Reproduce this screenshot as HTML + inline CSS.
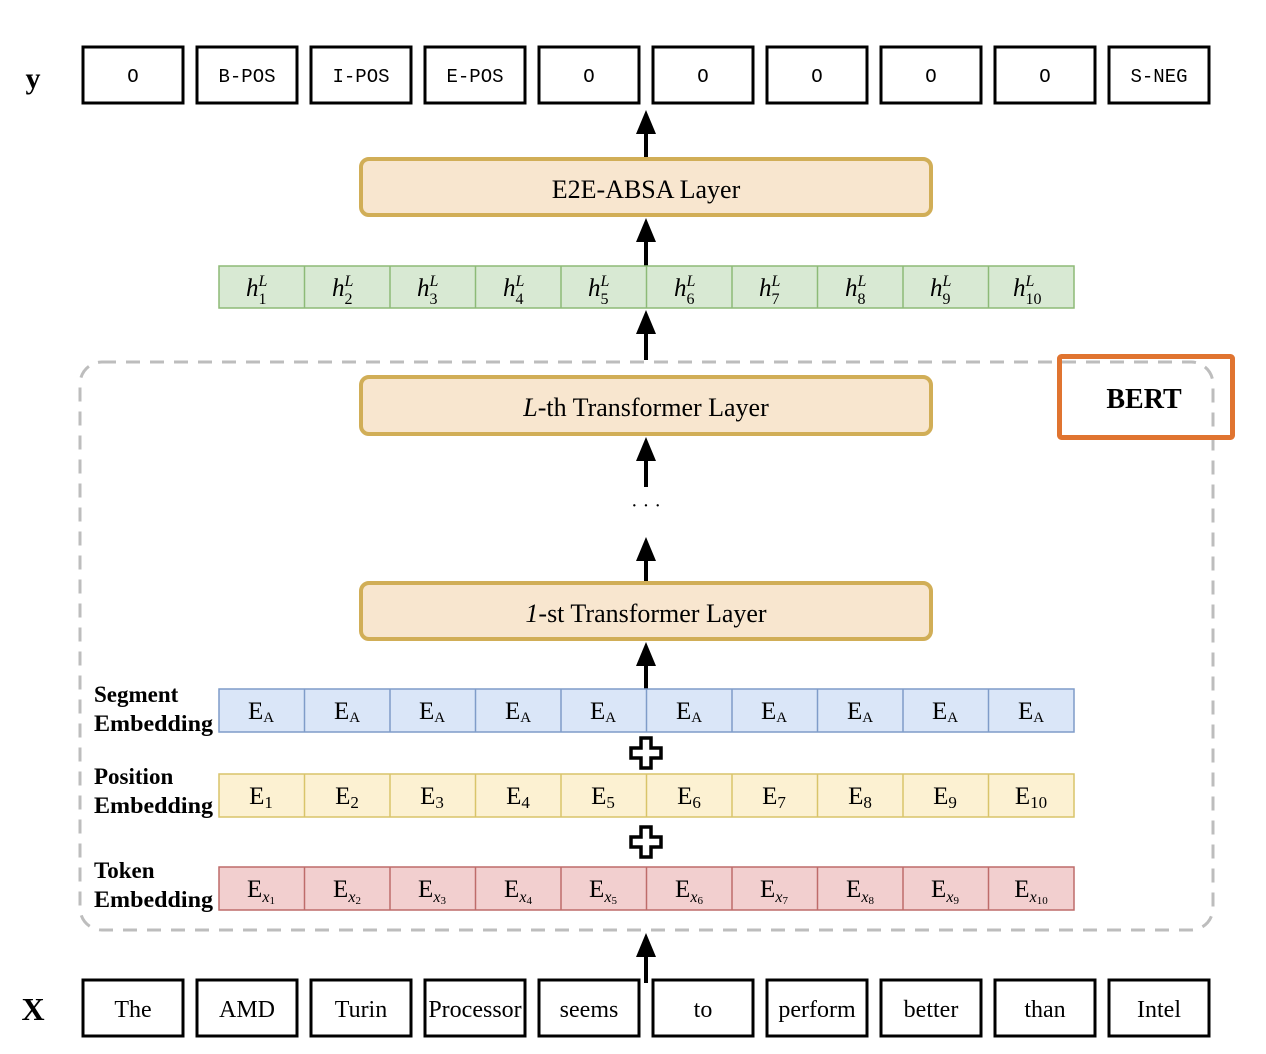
<!DOCTYPE html>
<html><head><meta charset="utf-8"><style>
html,body{margin:0;padding:0;background:#fff}
svg{display:block}
.s{font-family:"Liberation Serif",serif}
.m{font-family:"Liberation Mono",monospace}
</style></head><body>
<svg width="1266" height="1054" viewBox="0 0 1266 1054" xmlns="http://www.w3.org/2000/svg">
<defs>
<g id="ar"><line x1="0" y1="22" x2="0" y2="50" stroke="#000" stroke-width="4"/><polygon points="0,0 -10,24 10,24" fill="#000"/></g>
<path id="plus" d="M-5,-15 H5 V-5 H15 V5 H5 V15 H-5 V5 H-15 V-5 H-5 Z" fill="#fff" stroke="#000" stroke-width="3.5"/>
</defs>
<rect x="80" y="362" width="1133" height="568" rx="22" fill="none" stroke="#bdbdbd" stroke-width="3" stroke-dasharray="14,10"/>
<text x="33" y="88" class="s" font-size="30" font-weight="bold" text-anchor="middle">y</text>
<g class="m" font-size="19" text-anchor="middle" fill="#000">
<g fill="none" stroke="#000" stroke-width="3">
<rect x="83" y="47" width="100" height="56"/><rect x="197" y="47" width="100" height="56"/><rect x="311" y="47" width="100" height="56"/><rect x="425" y="47" width="100" height="56"/><rect x="539" y="47" width="100" height="56"/><rect x="653" y="47" width="100" height="56"/><rect x="767" y="47" width="100" height="56"/><rect x="881" y="47" width="100" height="56"/><rect x="995" y="47" width="100" height="56"/><rect x="1109" y="47" width="100" height="56"/>
</g>
<text x="133" y="82">O</text><text x="247" y="82">B-POS</text><text x="361" y="82">I-POS</text><text x="475" y="82">E-POS</text><text x="589" y="82">O</text><text x="703" y="82">O</text><text x="817" y="82">O</text><text x="931" y="82">O</text><text x="1045" y="82">O</text><text x="1159" y="82">S-NEG</text>
</g>
<use href="#ar" x="646" y="110"/>
<use href="#ar" x="646" y="218"/>
<use href="#ar" x="646" y="310"/>
<use href="#ar" x="646" y="437"/>
<use href="#ar" x="646" y="537"/>
<use href="#ar" x="646" y="642"/>
<use href="#ar" x="646" y="933"/>
<g fill="#F8E6CF" stroke="#D1AE57" stroke-width="4">
<rect x="361" y="159" width="570" height="56" rx="8"/>
<rect x="361" y="377" width="570" height="57" rx="8"/>
<rect x="361" y="583" width="570" height="56" rx="8"/>
</g>
<g class="s" font-size="26" text-anchor="middle">
<text x="646" y="198">E2E-ABSA Layer</text>
<text x="646" y="416"><tspan font-style="italic">L</tspan>-th Transformer Layer</text>
<text x="646" y="622"><tspan font-style="italic">1</tspan>-st Transformer Layer</text>
</g>
<text x="646" y="512" class="s" font-size="20" text-anchor="middle">· · ·</text>
<rect x="1059.5" y="356.5" width="173" height="81" fill="none" stroke="#E07430" stroke-width="5" rx="2"/>
<text x="1144" y="408" class="s" font-size="28" font-weight="bold" text-anchor="middle">BERT</text>
<rect x="219" y="266" width="855" height="42" stroke="#8DBA77" stroke-width="1.5" fill="#D8E9D3"/>
<g stroke="#8DBA77" stroke-width="1.5">
<line x1="304.5" y1="266" x2="304.5" y2="308"/><line x1="390" y1="266" x2="390" y2="308"/><line x1="475.5" y1="266" x2="475.5" y2="308"/><line x1="561" y1="266" x2="561" y2="308"/><line x1="646.5" y1="266" x2="646.5" y2="308"/><line x1="732" y1="266" x2="732" y2="308"/><line x1="817.5" y1="266" x2="817.5" y2="308"/><line x1="903" y1="266" x2="903" y2="308"/><line x1="988.5" y1="266" x2="988.5" y2="308"/>
</g>
<g class="s" font-size="25">
<text x="246" y="296"><tspan font-style="italic">h</tspan><tspan font-size="16" dy="8">1</tspan><tspan font-size="16" font-style="italic" dx="-8" dy="-18">L</tspan></text>
<text x="332" y="296"><tspan font-style="italic">h</tspan><tspan font-size="16" dy="8">2</tspan><tspan font-size="16" font-style="italic" dx="-8" dy="-18">L</tspan></text>
<text x="417" y="296"><tspan font-style="italic">h</tspan><tspan font-size="16" dy="8">3</tspan><tspan font-size="16" font-style="italic" dx="-8" dy="-18">L</tspan></text>
<text x="503" y="296"><tspan font-style="italic">h</tspan><tspan font-size="16" dy="8">4</tspan><tspan font-size="16" font-style="italic" dx="-8" dy="-18">L</tspan></text>
<text x="588" y="296"><tspan font-style="italic">h</tspan><tspan font-size="16" dy="8">5</tspan><tspan font-size="16" font-style="italic" dx="-8" dy="-18">L</tspan></text>
<text x="674" y="296"><tspan font-style="italic">h</tspan><tspan font-size="16" dy="8">6</tspan><tspan font-size="16" font-style="italic" dx="-8" dy="-18">L</tspan></text>
<text x="759" y="296"><tspan font-style="italic">h</tspan><tspan font-size="16" dy="8">7</tspan><tspan font-size="16" font-style="italic" dx="-8" dy="-18">L</tspan></text>
<text x="845" y="296"><tspan font-style="italic">h</tspan><tspan font-size="16" dy="8">8</tspan><tspan font-size="16" font-style="italic" dx="-8" dy="-18">L</tspan></text>
<text x="930" y="296"><tspan font-style="italic">h</tspan><tspan font-size="16" dy="8">9</tspan><tspan font-size="16" font-style="italic" dx="-8" dy="-18">L</tspan></text>
<text x="1013" y="296"><tspan font-style="italic">h</tspan><tspan font-size="16" dy="8">10</tspan><tspan font-size="16" font-style="italic" dx="-16" dy="-18">L</tspan></text>
</g>
<rect x="219" y="689" width="855" height="43" fill="#DAE6F8" stroke="#7F9CC9" stroke-width="1.5"/>
<rect x="219" y="774" width="855" height="43" fill="#FCF1D2" stroke="#D9C46A" stroke-width="1.5"/>
<rect x="219" y="867" width="855" height="43" fill="#F2CFCF" stroke="#BE6C6A" stroke-width="1.5"/>
<g stroke-width="1.5">
<g stroke="#7F9CC9"><line x1="304.5" y1="689" x2="304.5" y2="732"/><line x1="390" y1="689" x2="390" y2="732"/><line x1="475.5" y1="689" x2="475.5" y2="732"/><line x1="561" y1="689" x2="561" y2="732"/><line x1="646.5" y1="689" x2="646.5" y2="732"/><line x1="732" y1="689" x2="732" y2="732"/><line x1="817.5" y1="689" x2="817.5" y2="732"/><line x1="903" y1="689" x2="903" y2="732"/><line x1="988.5" y1="689" x2="988.5" y2="732"/></g>
<g stroke="#D9C46A"><line x1="304.5" y1="774" x2="304.5" y2="817"/><line x1="390" y1="774" x2="390" y2="817"/><line x1="475.5" y1="774" x2="475.5" y2="817"/><line x1="561" y1="774" x2="561" y2="817"/><line x1="646.5" y1="774" x2="646.5" y2="817"/><line x1="732" y1="774" x2="732" y2="817"/><line x1="817.5" y1="774" x2="817.5" y2="817"/><line x1="903" y1="774" x2="903" y2="817"/><line x1="988.5" y1="774" x2="988.5" y2="817"/></g>
<g stroke="#BE6C6A"><line x1="304.5" y1="867" x2="304.5" y2="910"/><line x1="390" y1="867" x2="390" y2="910"/><line x1="475.5" y1="867" x2="475.5" y2="910"/><line x1="561" y1="867" x2="561" y2="910"/><line x1="646.5" y1="867" x2="646.5" y2="910"/><line x1="732" y1="867" x2="732" y2="910"/><line x1="817.5" y1="867" x2="817.5" y2="910"/><line x1="903" y1="867" x2="903" y2="910"/><line x1="988.5" y1="867" x2="988.5" y2="910"/></g>
</g>
<g class="s" font-size="25" text-anchor="middle">
<text x="261" y="719">E<tspan font-size="15" dy="3">A</tspan></text><text x="347" y="719">E<tspan font-size="15" dy="3">A</tspan></text><text x="432" y="719">E<tspan font-size="15" dy="3">A</tspan></text><text x="518" y="719">E<tspan font-size="15" dy="3">A</tspan></text><text x="603" y="719">E<tspan font-size="15" dy="3">A</tspan></text><text x="689" y="719">E<tspan font-size="15" dy="3">A</tspan></text><text x="774" y="719">E<tspan font-size="15" dy="3">A</tspan></text><text x="860" y="719">E<tspan font-size="15" dy="3">A</tspan></text><text x="945" y="719">E<tspan font-size="15" dy="3">A</tspan></text><text x="1031" y="719">E<tspan font-size="15" dy="3">A</tspan></text>
<text x="261" y="804">E<tspan font-size="17" dy="4">1</tspan></text><text x="347" y="804">E<tspan font-size="17" dy="4">2</tspan></text><text x="432" y="804">E<tspan font-size="17" dy="4">3</tspan></text><text x="518" y="804">E<tspan font-size="17" dy="4">4</tspan></text><text x="603" y="804">E<tspan font-size="17" dy="4">5</tspan></text><text x="689" y="804">E<tspan font-size="17" dy="4">6</tspan></text><text x="774" y="804">E<tspan font-size="17" dy="4">7</tspan></text><text x="860" y="804">E<tspan font-size="17" dy="4">8</tspan></text><text x="945" y="804">E<tspan font-size="17" dy="4">9</tspan></text><text x="1031" y="804">E<tspan font-size="17" dy="4">10</tspan></text>
<text x="261" y="897">E<tspan font-size="16" dy="5" font-style="italic">x</tspan><tspan font-size="11" dy="2">1</tspan></text>
<text x="347" y="897">E<tspan font-size="16" dy="5" font-style="italic">x</tspan><tspan font-size="11" dy="2">2</tspan></text>
<text x="432" y="897">E<tspan font-size="16" dy="5" font-style="italic">x</tspan><tspan font-size="11" dy="2">3</tspan></text>
<text x="518" y="897">E<tspan font-size="16" dy="5" font-style="italic">x</tspan><tspan font-size="11" dy="2">4</tspan></text>
<text x="603" y="897">E<tspan font-size="16" dy="5" font-style="italic">x</tspan><tspan font-size="11" dy="2">5</tspan></text>
<text x="689" y="897">E<tspan font-size="16" dy="5" font-style="italic">x</tspan><tspan font-size="11" dy="2">6</tspan></text>
<text x="774" y="897">E<tspan font-size="16" dy="5" font-style="italic">x</tspan><tspan font-size="11" dy="2">7</tspan></text>
<text x="860" y="897">E<tspan font-size="16" dy="5" font-style="italic">x</tspan><tspan font-size="11" dy="2">8</tspan></text>
<text x="945" y="897">E<tspan font-size="16" dy="5" font-style="italic">x</tspan><tspan font-size="11" dy="2">9</tspan></text>
<text x="1031" y="897">E<tspan font-size="16" dy="5" font-style="italic">x</tspan><tspan font-size="11" dy="2">10</tspan></text>
</g>
<g class="s" font-size="23" font-weight="bold">
<text x="94" y="702">Segment</text><text x="94" y="731" textLength="119" lengthAdjust="spacingAndGlyphs">Embedding</text>
<text x="94" y="784">Position</text><text x="94" y="813" textLength="119" lengthAdjust="spacingAndGlyphs">Embedding</text>
<text x="94" y="878">Token</text><text x="94" y="907" textLength="119" lengthAdjust="spacingAndGlyphs">Embedding</text>
</g>
<use href="#plus" x="646" y="753"/>
<use href="#plus" x="646" y="842"/>
<text x="33" y="1020" class="s" font-size="32" font-weight="bold" text-anchor="middle">X</text>
<g fill="none" stroke="#000" stroke-width="3">
<rect x="83" y="980" width="100" height="56"/><rect x="197" y="980" width="100" height="56"/><rect x="311" y="980" width="100" height="56"/><rect x="425" y="980" width="100" height="56"/><rect x="539" y="980" width="100" height="56"/><rect x="653" y="980" width="100" height="56"/><rect x="767" y="980" width="100" height="56"/><rect x="881" y="980" width="100" height="56"/><rect x="995" y="980" width="100" height="56"/><rect x="1109" y="980" width="100" height="56"/>
</g>
<g class="s" font-size="24" text-anchor="middle">
<text x="133" y="1017">The</text><text x="247" y="1017">AMD</text><text x="361" y="1017">Turin</text><text x="475" y="1017">Processor</text><text x="589" y="1017">seems</text><text x="703" y="1017">to</text><text x="817" y="1017">perform</text><text x="931" y="1017">better</text><text x="1045" y="1017">than</text><text x="1159" y="1017">Intel</text>
</g>
</svg>
</body></html>
